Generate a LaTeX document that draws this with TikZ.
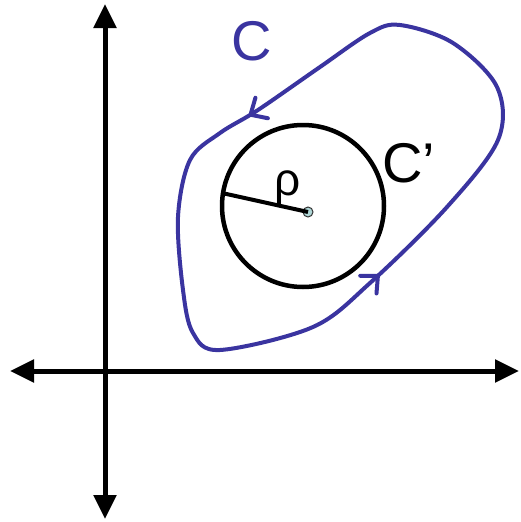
\documentclass[tikz,border=0pt]{standalone}
\usepackage{fontspec}
\setmainfont{Liberation Sans}
\usetikzlibrary{arrows.meta,decorations.markings}
\definecolor{cblue}{RGB}{58,52,160}
\definecolor{dotfill}{RGB}{175,215,215}
\tikzset{
  axis/.style={line width=5pt,-{Triangle[width=22pt,length=24pt]}},
  contour/.style={cblue,line width=4pt,line join=round},
  lbl/.style={font=\fontsize{56}{56}\selectfont,inner sep=0pt},
  chev/.style={cblue,line width=4pt,line cap=round,line join=miter}
}
\begin{document}
\begin{tikzpicture}[x=1pt,y=-1pt]
\useasboundingbox (0,0) rectangle (520,522);
\coordinate (o) at (105,371);
\coordinate (xl) at (10,371);
\coordinate (xr) at (519,371);
\coordinate (yt) at (105,4);
\coordinate (yb) at (105,519);
\draw[axis] (o) -- (xl);
\draw[axis] (o) -- (xr);
\draw[axis] (o) -- (yt);
\draw[axis] (o) -- (yb);
% contour C
\draw[contour,postaction={decorate},decoration={markings,
  mark=at position 0.145 with {\draw[chev] (-13pt,12pt) -- (0,0) -- (-13pt,-12pt);},
  mark=at position 0.612 with {\draw[chev] (-13pt,12pt) -- (0,0) -- (-13pt,-12pt);}}]
  plot[smooth cycle,tension=0.55] coordinates {(400,25) (370,33) (320,67) (258,110) (220,133) (190,160) (178,217) (183,290) (193,333) (220,350) (313,327) (370,283) (447,207) (498,140) (497,87) (453,43)};
% circle C'
\node[circle,draw,line width=4.5pt,minimum size=162pt,inner sep=0pt] (cp) at (303,206) {};
\node[circle,draw=black!80,fill=dotfill,line width=1pt,minimum size=10pt,inner sep=0pt] (ctr) at (308,212) {};
\coordinate (rend) at (222,193);
\draw[line width=4pt] (rend) -- (ctr.center);
\node[lbl] (rho) at (288,188) {\fontsize{46}{46}\selectfont ρ};
\node[lbl] (cpl) at (409,163) {C’};
\node[lbl,text=cblue] (cl) at (252,41) {C};
\end{tikzpicture}
\end{document}
